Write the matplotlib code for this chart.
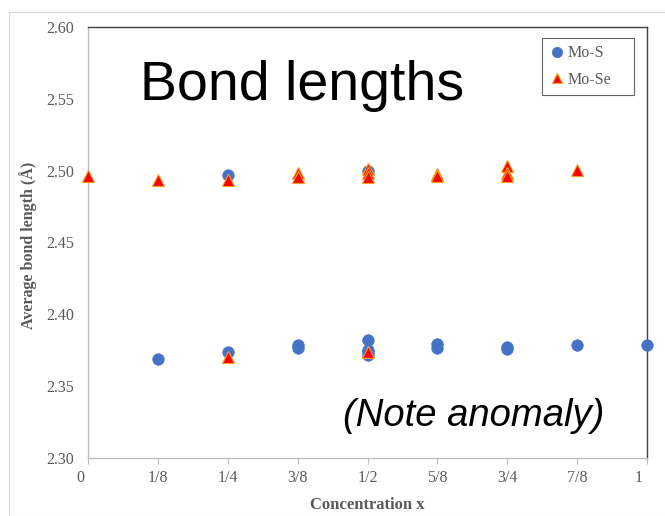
import matplotlib
matplotlib.use("Agg")
import matplotlib.pyplot as plt
from matplotlib.patches import Rectangle
import matplotlib.transforms as mtransforms

# Data (concentration x, average bond length in Å)
mos_x = [1/8, 1/4, 1/4, 3/8, 3/8, 1/2, 1/2, 1/2, 1/2, 1/2, 5/8, 5/8, 3/4, 3/4, 7/8, 1]
mos_y = [2.369, 2.374, 2.4967, 2.3787, 2.3764, 2.382, 2.375, 2.3717, 2.4995, 2.3735,
         2.3796, 2.3768, 2.3773, 2.3759, 2.3787, 2.3787]
mose_x = [0, 1/8, 1/4, 1/4, 3/8, 3/8, 1/2, 1/2, 1/2, 1/2, 5/8, 5/8, 3/4, 3/4, 3/4, 7/8]
mose_y = [2.4965, 2.4937, 2.4934, 2.370, 2.4986, 2.4958, 2.5014, 2.4986, 2.4958, 2.374,
          2.4974, 2.4962, 2.5033, 2.4986, 2.4962, 2.5004]
xtick_vals = [0, 1/8, 1/4, 3/8, 1/2, 5/8, 3/4, 7/8, 1]
xtick_labels = ["0", "1/8", "1/4", "3/8", "1/2", "5/8", "3/4", "7/8", "1"]
ytick_vals = [2.30, 2.35, 2.40, 2.45, 2.50, 2.55, 2.60]

W, H = 665, 516
fig = plt.figure(figsize=(W/100, H/100), dpi=100)
fig.patch.set_facecolor("white")

# outer chart border
fig.add_artist(Rectangle((9/W, 0), 1, 1 - 12/H, transform=fig.transFigure,
                         fill=False, edgecolor="#d9d9d9", linewidth=0.8))

ax_l, ax_r, ax_t, ax_b = 88, 647, 27, 458
ax = fig.add_axes([ax_l/W, 1 - ax_b/H, (ax_r - ax_l)/W, (ax_b - ax_t)/H])
ax.set_xlim(0, 1)
ax.set_ylim(2.30, 2.60)

serif = ["Liberation Serif", "DejaVu Serif"]
gray = "#595959"

ax.plot(mos_x, mos_y, linestyle="none", marker="o", markersize=8.3,
        color="#4472C4", markeredgecolor="#4472C4", markeredgewidth=0.5,
        label="Mo-S", clip_on=False, zorder=3)
ax.plot(mose_x, mose_y, linestyle="none", marker="^", markersize=8.3,
        color="#FF0000", markeredgecolor="#F4A020", markeredgewidth=0.8,
        label="Mo-Se", clip_on=False, zorder=4)

ax.set_xticks(xtick_vals)
ax.set_xticklabels(xtick_labels, family=serif, fontsize=11.5, color=gray)
ax.set_yticks(ytick_vals)
ax.set_yticklabels([f"{v:.2f}" for v in ytick_vals], family=serif, fontsize=11.5, color=gray)
ax.tick_params(axis="x", direction="out", length=4, color="#bfbfbf", pad=5)
ax.tick_params(axis="y", length=0, pad=10)

# end labels sit slightly left of their ticks in the reference
xl = ax.get_xticklabels()
for idx in (0, len(xl) - 1):
    xl[idx].set_transform(xl[idx].get_transform() +
                          mtransforms.ScaledTranslation(-8/100, 0, fig.dpi_scale_trans))

for s in ["left", "bottom"]:
    ax.spines[s].set_color("#bfbfbf")
    ax.spines[s].set_linewidth(1.0)
for s in ["top", "right"]:
    ax.spines[s].set_color("#404040")
    ax.spines[s].set_linewidth(1.0)

ax.set_xlabel("Concentration x", family=serif, fontsize=12, fontweight="bold", color=gray)
ax.xaxis.label.set_va("center")
ax.xaxis.set_label_coords(0.5, (ax_b - 505) / (ax_b - ax_t))
ax.set_ylabel("Average bond length (Å)", family=serif, fontsize=11.5, fontweight="bold",
              color=gray)
ax.yaxis.label.set_va("center")
ax.yaxis.set_label_coords((28 - ax_l) / (ax_r - ax_l), (ax_b - 245) / (ax_b - ax_t))

leg = ax.legend(loc="upper left",
                bbox_to_anchor=(541.7/W, 1 - 90.7/H, 92.6/W, 52.4/H),
                bbox_transform=fig.transFigure, mode="expand", borderaxespad=0,
                prop={"family": serif, "size": 11.5},
                frameon=True, fancybox=False, handletextpad=0.2, handlelength=1.0,
                borderpad=0.45, labelspacing=0.65, markerscale=0.9)
leg.get_frame().set_edgecolor("#404040")
leg.get_frame().set_linewidth(0.8)
for t in leg.get_texts():
    t.set_color(gray)

sans = ["Liberation Sans", "DejaVu Sans"]
fig.text(140/W, 1 - 100/H, "Bond lengths", family=sans, fontsize=40, color="black",
         ha="left", va="baseline")
fig.text(343/W, 1 - 426/H, "(Note anomaly)", family=sans, fontsize=27.5, style="italic",
         color="black", ha="left", va="baseline")

fig.savefig("out.png", dpi=100)
